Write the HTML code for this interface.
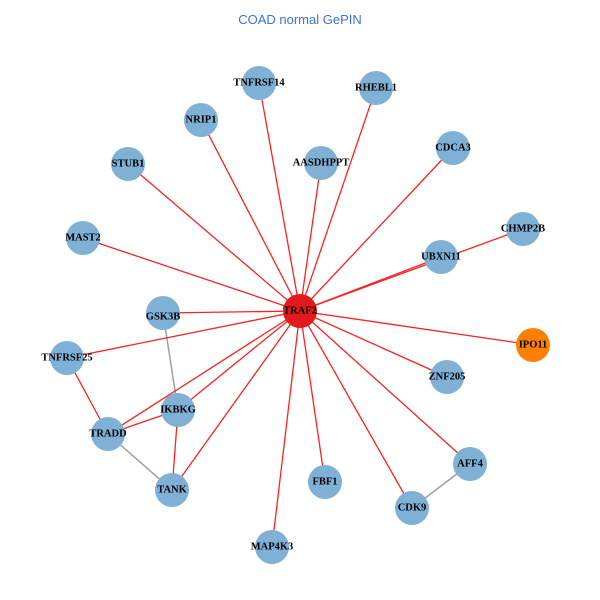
<!DOCTYPE html>
<html><head><style>body{margin:0;background:#fff}svg{display:block}
text.l{font-family:"Liberation Serif",serif;font-weight:bold;font-size:10.5px;text-anchor:middle;dominant-baseline:central;fill:#000}
</style></head><body>
<svg width="600" height="600" viewBox="0 0 600 600">
<text x="300" y="24" font-family="Liberation Sans,sans-serif" font-size="13" fill="#3b6ee8" text-anchor="middle">COAD normal GePIN</text>
<g stroke="#a0a0a0" stroke-width="1.5">
<line x1="163" y1="313" x2="178" y2="410"/>
<line x1="108" y1="434" x2="172" y2="490"/>
<line x1="412" y1="508" x2="470" y2="464"/>
</g>
<g stroke="#ff2020" stroke-width="1.3">
<line x1="300" y1="311" x2="259" y2="83"/>
<line x1="300" y1="311" x2="376" y2="88"/>
<line x1="300" y1="311" x2="201" y2="120"/>
<line x1="300" y1="311" x2="321" y2="163"/>
<line x1="300" y1="311" x2="453" y2="148"/>
<line x1="300" y1="311" x2="128" y2="164"/>
<line x1="300" y1="311" x2="523" y2="229"/>
<line x1="300" y1="311" x2="83" y2="238"/>
<line x1="300" y1="311" x2="441" y2="257"/>
<line x1="300" y1="311" x2="163" y2="313"/>
<line x1="300" y1="311" x2="533" y2="345"/>
<line x1="300" y1="311" x2="67" y2="358"/>
<line x1="300" y1="311" x2="447" y2="377"/>
<line x1="300" y1="311" x2="178" y2="410"/>
<line x1="300" y1="311" x2="108" y2="434"/>
<line x1="300" y1="311" x2="470" y2="464"/>
<line x1="300" y1="311" x2="325" y2="482"/>
<line x1="300" y1="311" x2="172" y2="490"/>
<line x1="300" y1="311" x2="412" y2="508"/>
<line x1="300" y1="311" x2="272" y2="547"/>
<line x1="67" y1="358" x2="108" y2="434"/>
<line x1="108" y1="434" x2="178" y2="410"/>
<line x1="178" y1="410" x2="172" y2="490"/>
</g>
<g fill="#7fb0d5">
<circle cx="259" cy="83" r="17"/><circle cx="376" cy="88" r="17"/><circle cx="201" cy="120" r="17"/>
<circle cx="321" cy="163" r="17"/><circle cx="453" cy="148" r="17"/><circle cx="128" cy="164" r="17"/>
<circle cx="523" cy="229" r="17"/><circle cx="83" cy="238" r="17"/><circle cx="441" cy="257" r="17"/>
<circle cx="163" cy="313" r="17"/><circle cx="67" cy="358" r="17"/><circle cx="447" cy="377" r="17"/>
<circle cx="178" cy="410" r="17"/><circle cx="108" cy="434" r="17"/><circle cx="470" cy="464" r="17"/>
<circle cx="325" cy="482" r="17"/><circle cx="172" cy="490" r="17"/><circle cx="412" cy="508" r="17"/>
<circle cx="272" cy="547" r="17"/>
</g>
<circle cx="533" cy="345" r="17" fill="#ff8000"/>
<circle cx="300" cy="311" r="17" fill="#e31a1c"/>
<text class="l" x="259" y="83">TNFRSF14</text><text class="l" x="376" y="88">RHEBL1</text>
<text class="l" x="201" y="120">NRIP1</text><text class="l" x="321" y="163">AASDHPPT</text>
<text class="l" x="453" y="148">CDCA3</text><text class="l" x="128" y="164">STUB1</text>
<text class="l" x="523" y="229">CHMP2B</text><text class="l" x="83" y="238">MAST2</text>
<text class="l" x="441" y="257">UBXN11</text><text class="l" x="163" y="317">GSK3B</text>
<text class="l" x="533" y="345">IPO11</text><text class="l" x="67" y="358">TNFRSF25</text>
<text class="l" x="447" y="377">ZNF205</text><text class="l" x="178" y="410">IKBKG</text>
<text class="l" x="108" y="434">TRADD</text><text class="l" x="470" y="464">AFF4</text>
<text class="l" x="325" y="482">FBF1</text><text class="l" x="172" y="490">TANK</text>
<text class="l" x="412" y="508">CDK9</text><text class="l" x="272" y="547">MAP4K3</text>
<text class="l" x="300" y="311">TRAF2</text>
</svg>
</body></html>
